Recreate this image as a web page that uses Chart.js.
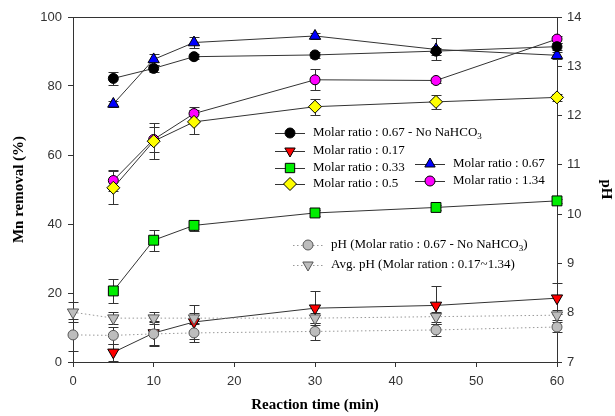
<!DOCTYPE html>
<html>
<head>
<meta charset="utf-8">
<script src="https://cdn.jsdelivr.net/npm/chart.js@4.4.1/dist/chart.umd.min.js"></script>
<style>
  html, body { margin: 0; padding: 0; background: #fff; }
  #wrap { width: 615px; height: 416px; }
</style>
</head>
<body>
<div id="wrap"><canvas id="chart" width="615" height="416"></canvas></div>
<script>
// Reaction time (min)
const times = [5, 10, 15, 30, 45, 60];
const phTimes = [0, 5, 10, 15, 30, 45, 60];

// Mn removal (%) per molar ratio
const ratio067NoNaHCO3 = [82.2, 85.1, 88.5, 89.0, 90.1, 91.4];
const ratio017 = [2.8, 8.4, 11.6, 15.6, 16.4, 18.5];
const ratio033 = [20.6, 35.3, 39.6, 43.2, 44.8, 46.7];
const ratio05 = [50.5, 64.0, 69.6, 74.0, 75.4, 76.7];
const ratio067 = [74.8, 87.7, 92.6, 94.5, 90.6, 88.9];
const ratio134 = [52.6, 64.5, 72.0, 81.8, 81.6, 93.6];

// error bar half-widths
const err067NoNaHCO3 = [2, 1, 0.8, 0.8, 1, 1];
const err017 = [2.5, 3.5, 5, 5, 5.5, 4.5];
const err033 = [3.4, 3, 1.5, 1, 0.6, 0.6];
const err05 = [4.8, 5.2, 3.4, 2.3, 2, 1];
const err067 = [0.8, 1.5, 1.5, 1, 3.2, 1];
const err134 = [3, 3.5, 2, 3, 0.8, 1];

// pH
const phNoNaHCO3 = [7.55, 7.54, 7.57, 7.59, 7.62, 7.65, 7.71];
const phAvg = [8.01, 7.89, 7.89, 7.89, 7.89, 7.92, 7.95];
const errPhNoNaHCO3 = [0.32, 0.17, 0.25, 0.18, 0.17, 0.12, 0.1];
const errPhAvg = [0.2, 0.12, 0.12, 0.1, 0.1, 0.1, 0.1];

const xTicks = [0, 10, 20, 30, 40, 50, 60];
const yTicks = [0, 20, 40, 60, 80, 100];
const phTicks = [7, 8, 9, 10, 11, 12, 13, 14];

const toPoints = (xs, ys) => xs.map((x, i) => ({ x, y: ys[i] }));

const LINE = '#333';
const serif = '"Liberation Serif", "Times New Roman", serif';
const sans = '"Liberation Sans", Arial, sans-serif';

function series(label, ys, errs, style, fill, extra) {
    return Object.assign({
        label,
        data: toPoints(times, ys),
        errors: errs,
        yAxisID: 'y',
        borderColor: LINE,
        borderWidth: 1,
        pointStyle: style,
        pointRadius: 5,
        pointBackgroundColor: fill,
        pointBorderColor: '#000',
        pointBorderWidth: 1,
        tension: 0,
        fill: false,
        clip: false
    }, extra || {});
}

const datasets = [
    series('pH (Molar ratio : 0.67 - No NaHCO3)', phNoNaHCO3, errPhNoNaHCO3, 'circle', '#bdbdbd', {
        data: toPoints(phTimes, phNoNaHCO3), yAxisID: 'y1', borderColor: '#999',
        borderDash: [1.5, 2.5], pointBorderColor: '#555', order: 1
    }),
    series('Avg. pH (Molar ration : 0.17~1.34)', phAvg, errPhAvg, 'triangle', '#bdbdbd', {
        data: toPoints(phTimes, phAvg), yAxisID: 'y1', borderColor: '#999',
        borderDash: [1.5, 2.5], pointBorderColor: '#555', pointRotation: 180, pointRadius: 6.5, order: 2
    }),
    series('Molar ratio : 0.67 - No NaHCO3', ratio067NoNaHCO3, err067NoNaHCO3, 'circle', '#000', { order: 3 }),
    series('Molar ratio : 0.17', ratio017, err017, 'triangle', '#ff0000', { pointRotation: 180, pointRadius: 6.5, order: 4 }),
    series('Molar ratio : 0.33', ratio033, err033, 'rect', '#00ee00', { pointRadius: 7, order: 5 }),
    series('Molar ratio : 0.5', ratio05, err05, 'rectRot', '#ffff00', { pointRadius: 6.5, order: 6 }),
    series('Molar ratio : 0.67', ratio067, err067, 'triangle', '#0000ff', { pointRadius: 6.5, order: 7 }),
    series('Molar ratio : 1.34', ratio134, err134, 'circle', '#ff00ff', { order: 8 })
];

// vertical error bars with caps, drawn through the chart scales
const errorBars = {
    id: 'errorBars',
    beforeDatasetsDraw(chart) {
        const ctx = chart.ctx;
        const xScale = chart.scales.x;
        ctx.save();
        ctx.strokeStyle = LINE;
        ctx.lineWidth = 1;
        chart.data.datasets.forEach(ds => {
            if (!ds.errors) return;
            const yScale = chart.scales[ds.yAxisID];
            ds.data.forEach((pt, j) => {
                const e = ds.errors[j];
                if (!e) return;
                const x = Math.round(xScale.getPixelForValue(pt.x)) + 0.5;
                const top = Math.round(yScale.getPixelForValue(pt.y + e)) + 0.5;
                const bot = Math.round(yScale.getPixelForValue(pt.y - e)) + 0.5;
                ctx.beginPath();
                ctx.moveTo(x, top); ctx.lineTo(x, bot);
                ctx.moveTo(x - 5, top); ctx.lineTo(x + 5, top);
                ctx.moveTo(x - 5, bot); ctx.lineTo(x + 5, bot);
                ctx.stroke();
            });
        });
        ctx.restore();
    }
};

function marker(ctx, style, x, y, fill, stroke, r) {
    ctx.save();
    ctx.fillStyle = fill;
    ctx.strokeStyle = stroke;
    ctx.lineWidth = 1;
    ctx.beginPath();
    if (style === 'circle') {
        ctx.arc(x, y, r, 0, Math.PI * 2);
    } else if (style === 'tri' || style === 'triDown') {
        const s = style === 'tri' ? 1 : -1;
        const h = r * 1.5, w = r * Math.sqrt(3);
        ctx.moveTo(x, y - s * r);
        ctx.lineTo(x + w / 2, y - s * r + s * h);
        ctx.lineTo(x - w / 2, y - s * r + s * h);
        ctx.closePath();
    } else if (style === 'rect') {
        ctx.rect(x - r * 0.85, y - r * 0.85, r * 1.7, r * 1.7);
    } else if (style === 'diamond') {
        ctx.moveTo(x, y - r); ctx.lineTo(x + r, y); ctx.lineTo(x, y + r); ctx.lineTo(x - r, y);
        ctx.closePath();
    }
    ctx.fill();
    ctx.stroke();
    ctx.restore();
}

function labelText(ctx, x, y, text) {
    // draws "NaHCO3" with a subscript 3
    const sub = text.endsWith('NaHCO3') || text.endsWith('NaHCO3)');
    if (!sub) { ctx.fillText(text, x, y); return; }
    const i = text.lastIndexOf('3');
    const head = text.slice(0, i), tail = text.slice(i + 1);
    ctx.fillText(head, x, y);
    let cx = x + ctx.measureText(head).width;
    const font = ctx.font;
    ctx.font = '9px ' + serif;
    ctx.fillText('3', cx, y + 4);
    cx += ctx.measureText('3').width;
    ctx.font = font;
    if (tail) ctx.fillText(tail, cx, y);
}

const legendRows = [
    { text: 'Molar ratio : 0.67 - No NaHCO3', style: 'circle', fill: '#000', x: 290, y: 133, r: 5 },
    { text: 'Molar ratio : 0.17', style: 'triDown', fill: '#ff0000', x: 290, y: 151, r: 6 },
    { text: 'Molar ratio : 0.33', style: 'rect', fill: '#00ee00', x: 290, y: 168, r: 5.5 },
    { text: 'Molar ratio : 0.5', style: 'diamond', fill: '#ffff00', x: 290, y: 184, r: 6.5 },
    { text: 'Molar ratio : 0.67', style: 'tri', fill: '#0000ff', x: 430, y: 164, r: 6 },
    { text: 'Molar ratio : 1.34', style: 'circle', fill: '#ff00ff', x: 430, y: 181, r: 5 },
    { text: 'pH (Molar ratio : 0.67 - No NaHCO3)', style: 'circle', fill: '#bdbdbd', x: 308, y: 245, r: 5, dotted: true },
    { text: 'Avg. pH (Molar ration : 0.17~1.34)', style: 'triDown', fill: '#bdbdbd', x: 308, y: 265, r: 6, dotted: true }
];

const chartLegend = {
    id: 'chartLegend',
    afterDraw(chart) {
        const ctx = chart.ctx;
        const area = chart.chartArea;
        ctx.save();
        // top frame line
        ctx.strokeStyle = LINE;
        ctx.lineWidth = 1;
        ctx.beginPath();
        ctx.moveTo(area.left, Math.round(area.top) + 0.5);
        ctx.lineTo(area.right, Math.round(area.top) + 0.5);
        ctx.stroke();

        ctx.font = '13px ' + serif;
        ctx.textBaseline = 'middle';
        ctx.fillStyle = '#000';
        legendRows.forEach(row => {
            ctx.beginPath();
            if (row.dotted) {
                ctx.strokeStyle = '#999';
                ctx.setLineDash([1.5, 2.5]);
            } else {
                ctx.strokeStyle = LINE;
                ctx.setLineDash([]);
            }
            ctx.moveTo(row.x - 15, row.y + 0.5);
            ctx.lineTo(row.x + 15, row.y + 0.5);
            ctx.stroke();
            ctx.setLineDash([]);
            const grey = row.fill === '#bdbdbd';
            marker(ctx, row.style, row.x, row.y, row.fill, grey ? '#555' : '#000', row.r);
            ctx.fillStyle = '#000';
            labelText(ctx, row.x + 23, row.y, row.text);
        });
        ctx.restore();
    }
};

const tickFont = { family: sans, size: 13 };
const titleFont = { family: serif, size: 15, weight: 'bold' };

new Chart(document.getElementById('chart'), {
    type: 'line',
    data: { datasets },
    options: {
        responsive: false,
        animation: false,
        events: [],
        layout: { padding: { top: 17, left: 0, right: 0, bottom: 0 } },
        plugins: {
            legend: { display: false },
            tooltip: { enabled: false }
        },
        scales: {
            x: {
                type: 'linear',
                min: 0,
                max: 60,
                afterBuildTicks: s => { s.ticks = xTicks.map(v => ({ value: v })); },
                afterFit: s => { s.height = 54; },
                grid: { drawOnChartArea: false, drawTicks: true, tickLength: 5, color: LINE },
                border: { display: true, color: LINE, width: 1 },
                ticks: { color: '#333', font: tickFont, padding: 7, maxRotation: 0 },
                title: { display: true, text: 'Reaction time (min)', color: '#000', font: titleFont, padding: { top: 0, bottom: 2 } }
            },
            y: {
                type: 'linear',
                position: 'left',
                min: 0,
                max: 100,
                afterBuildTicks: s => { s.ticks = yTicks.map(v => ({ value: v })); },
                afterFit: s => { s.width = 73; },
                grid: { drawOnChartArea: false, drawTicks: true, tickLength: 5, color: LINE },
                border: { display: true, color: LINE, width: 1 },
                ticks: { color: '#333', font: tickFont, padding: 6 },
                title: { display: true, text: 'Mn removal (%)', color: '#000', font: titleFont, padding: { top: 10, bottom: 0 } }
            },
            y1: {
                type: 'linear',
                position: 'right',
                min: 7,
                max: 14,
                afterBuildTicks: s => { s.ticks = phTicks.map(v => ({ value: v })); },
                afterFit: s => { s.width = 58; },
                grid: { drawOnChartArea: false, drawTicks: true, tickLength: 5, color: LINE },
                border: { display: true, color: LINE, width: 1 },
                ticks: { color: '#333', font: tickFont, padding: 5 },
                title: { display: true, text: 'pH', color: '#000', font: titleFont, padding: { top: 0, bottom: 0 } }
            }
        }
    },
    plugins: [errorBars, chartLegend]
});
</script>
</body>
</html>
